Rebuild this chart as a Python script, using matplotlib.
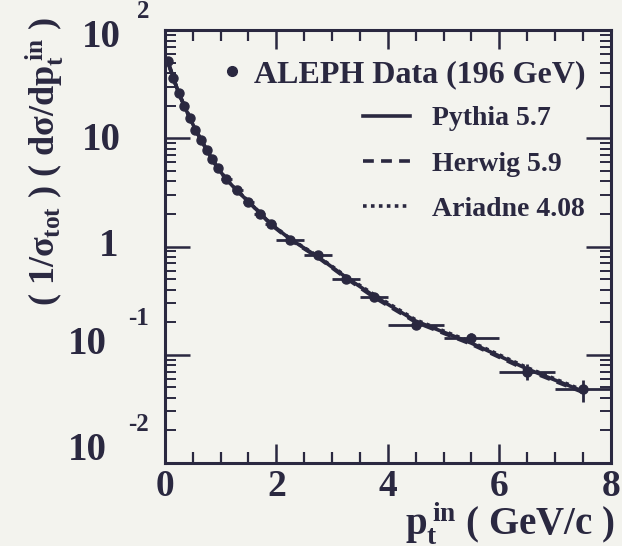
import matplotlib
matplotlib.use("Agg")
import matplotlib.pyplot as plt
from matplotlib.ticker import FixedLocator, NullFormatter, MultipleLocator
from matplotlib.lines import Line2D

plt.rcParams["font.family"] = ["Liberation Serif", "DejaVu Serif"]
plt.rcParams["font.weight"] = "bold"
plt.rcParams["mathtext.fontset"] = "custom"
plt.rcParams["mathtext.rm"] = "Liberation Serif:bold"
plt.rcParams["mathtext.it"] = "Liberation Serif:bold"
plt.rcParams["mathtext.bf"] = "Liberation Serif:bold"

INK = "#2a2840"
BG = "#f3f3ee"

# ALEPH in-plane transverse momentum distribution, 196 GeV
pt_center = [0.05, 0.15, 0.25, 0.35, 0.45, 0.55, 0.65, 0.75, 0.85, 0.95,
             1.1, 1.3, 1.5, 1.7, 1.9, 2.25, 2.75, 3.25, 3.75, 4.5, 5.5, 6.5, 7.5]
pt_halfwidth = [0.05] * 10 + [0.1] * 5 + [0.25] * 4 + [0.5] * 4
data_val = [52.0, 36.0, 26.0, 20.0, 15.5, 12.0, 9.6, 7.8, 6.4, 5.3,
            4.2, 3.3, 2.6, 2.0, 1.6, 1.16, 0.84, 0.50, 0.34, 0.19, 0.143, 0.070, 0.048]
data_err = [1.0, 0.7, 0.5, 0.4, 0.3, 0.25, 0.2, 0.16, 0.13, 0.11,
            0.09, 0.07, 0.06, 0.05, 0.04, 0.03, 0.025, 0.02, 0.015, 0.012, 0.015, 0.012, 0.011]

# Monte Carlo predictions at the same bin centres
pythia = [53.0, 36.5, 26.0, 19.8, 15.3, 12.0, 9.6, 7.8, 6.4, 5.3,
          4.2, 3.25, 2.6, 2.05, 1.62, 1.17, 0.80, 0.52, 0.35, 0.205, 0.128, 0.074, 0.046]
herwig = [51.0, 36.0, 26.3, 20.0, 15.5, 12.1, 9.7, 7.9, 6.4, 5.3,
          4.2, 3.3, 2.6, 2.05, 1.6, 1.15, 0.79, 0.51, 0.34, 0.200, 0.125, 0.072, 0.045]
ariadne = [52.0, 36.2, 26.1, 19.9, 15.4, 12.0, 9.6, 7.8, 6.4, 5.3,
           4.2, 3.28, 2.62, 2.07, 1.63, 1.18, 0.81, 0.53, 0.36, 0.210, 0.131, 0.076, 0.047]

y_decades = [1e-2, 1e-1, 1, 10, 100]
y_base = ["10", "10", "1", "10", "10"]
y_exp = ["-2", "-1", "", "", "2"]
x_ticks = [0, 2, 4, 6, 8]

fig = plt.figure(figsize=(6.22, 5.46), dpi=100, facecolor=BG)
ax = fig.add_axes([0.265, 0.152, 0.717, 0.793], facecolor=BG)

ax.plot(pt_center, pythia, color=INK, lw=2.6, ls="-", label="Pythia 5.7")
ax.plot(pt_center, herwig, color=INK, lw=2.6, ls=(0, (3, 2)), label="Herwig 5.9")
ax.plot(pt_center, ariadne, color=INK, lw=2.6, ls=(0, (1, 1.2)), label="Ariadne 4.08")
ax.errorbar(pt_center, data_val, xerr=pt_halfwidth, yerr=data_err, fmt="o",
            color=INK, ms=6.5, elinewidth=2.0, capsize=0)

ax.set_yscale("log")
ax.set_xlim(0, 8)
ax.set_ylim(1e-2, 1e2)

ax.xaxis.set_major_locator(FixedLocator(x_ticks))
ax.xaxis.set_minor_locator(MultipleLocator(0.5))
ax.set_xticklabels([str(t) for t in x_ticks])
ax.yaxis.set_major_locator(FixedLocator(y_decades))
ax.yaxis.set_minor_locator(FixedLocator([d * k for d in y_decades[:-1] for k in range(2, 10)]))
ax.yaxis.set_major_formatter(NullFormatter())
ax.yaxis.set_minor_formatter(NullFormatter())

ax.tick_params(which="both", direction="in", top=True, right=True, color=INK)
ax.tick_params(axis="x", which="major", length=14, width=1.8, labelsize=27,
               pad=4, labelcolor=INK)
ax.tick_params(axis="x", which="minor", length=8, width=1.6)
ax.tick_params(axis="y", which="major", length=18, width=1.8)
ax.tick_params(axis="y", which="minor", length=8, width=1.4)
for s in ax.spines.values():
    s.set_linewidth(2.2)
    s.set_color(INK)

# decade labels on the y axis, base and exponent set separately
base_dy = [13, 10, 0, -2, -7]
base_dx = [-58, -58, -46, -44, -44]
for v, b, e, dy, dx in zip(y_decades, y_base, y_exp, base_dy, base_dx):
    ax.annotate(b, xy=(0, v), xycoords=("axes fraction", "data"),
                xytext=(dx, dy), textcoords="offset pixels",
                ha="right", va="center", fontsize=28, color=INK,
                annotation_clip=False)
    if e:
        ax.annotate(e, xy=(0, v), xycoords=("axes fraction", "data"),
                    xytext=(-37 if e != "2" else -28, dy + 26),
                    textcoords="offset pixels",
                    ha="left", va="center", fontsize=18, color=INK,
                    annotation_clip=False)

# legends: data entry on its own line, generator curves below
data_key = Line2D([], [], ls="none", marker="o", ms=7, color=INK)
leg1 = ax.legend([data_key], ["ALEPH Data (196 GeV)"],
                 loc="center left", bbox_to_anchor=(0.125, 0.898),
                 frameon=False, fontsize=23, handlelength=0.7, handletextpad=0.35,
                 borderpad=0, borderaxespad=0, labelcolor=INK)
ax.add_artist(leg1)
h, l = ax.get_legend_handles_labels()
ax.legend(h, l, loc="upper left",
          bbox_to_anchor=(0.444, 0.825), frameon=False, fontsize=20,
          handlelength=1.7, handletextpad=0.8, labelspacing=0.72,
          borderpad=0, borderaxespad=0, labelcolor=INK)

fig.text(0.988, 0.02, r"$p_t^{\,in}$ ( GeV/c )", ha="right", va="baseline",
         fontsize=28, color=INK)
fig.text(0.072, 0.703, r"( 1/$\sigma_{tot}$ ) ( d$\sigma$/d$p_t^{\,in}$ )",
         rotation=90, ha="center", va="center", fontsize=26, color=INK)

fig.savefig("out.png", dpi=100, facecolor=BG)
